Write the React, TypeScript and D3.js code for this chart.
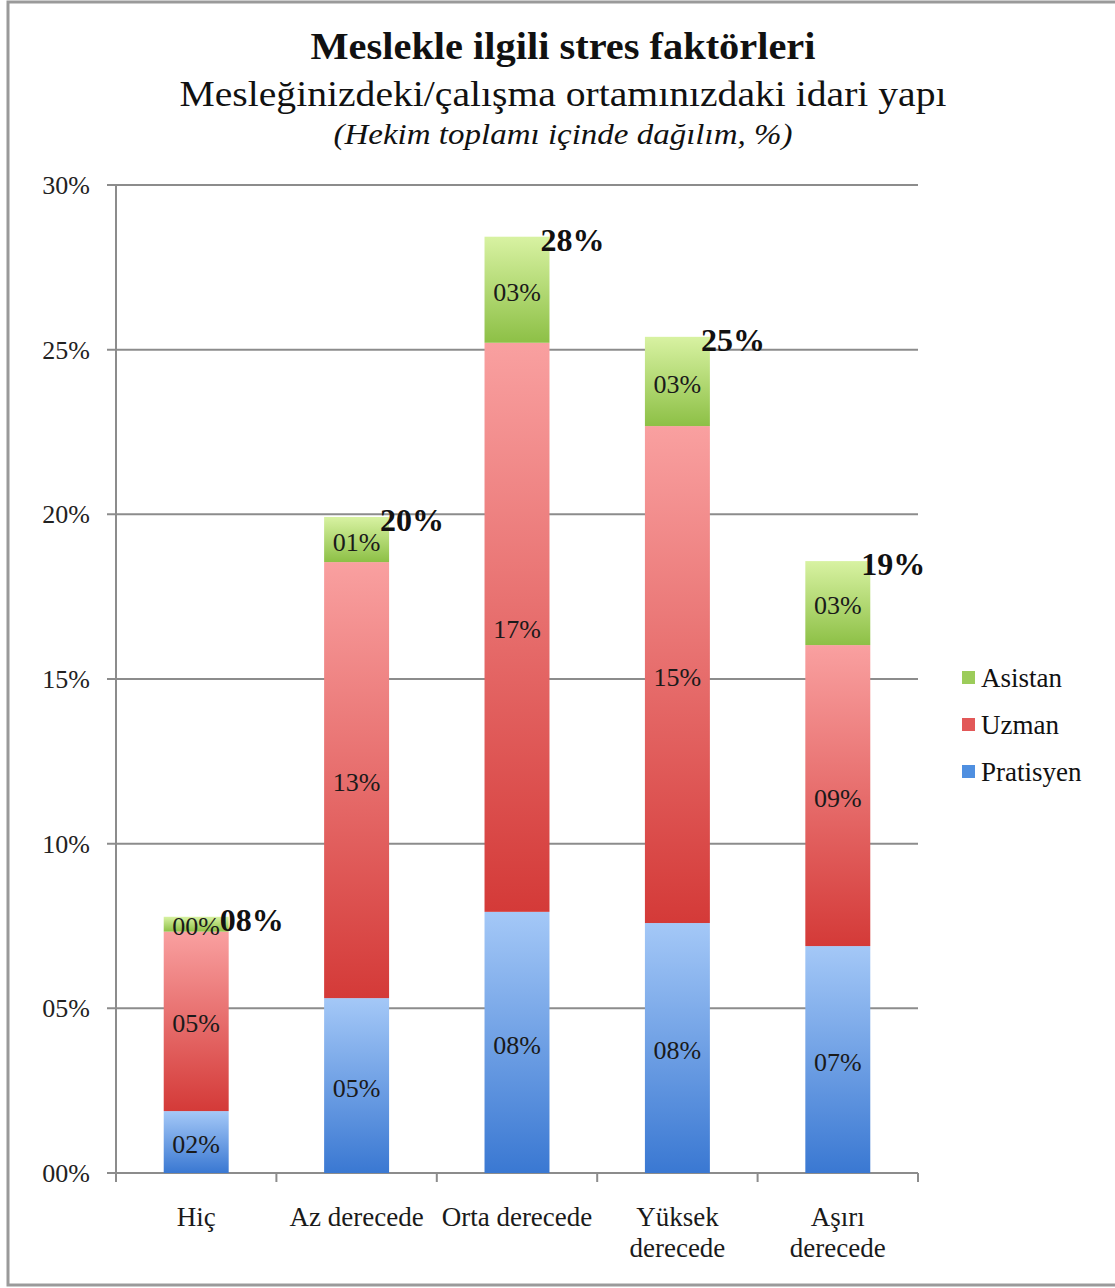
import React from "react";
import * as d3 from "d3";

const categories = ["Hiç", "Az derecede", "Orta derecede", "Yüksek derecede", "Aşırı derecede"];
const categoryLines = [["Hiç"], ["Az derecede"], ["Orta derecede"], ["Yüksek", "derecede"], ["Aşırı", "derecede"]];
const seriesNames = ["Pratisyen", "Uzman", "Asistan"];
const pratisyen = [1.88, 5.31, 7.93, 7.59, 6.89];
const uzman = [5.45, 13.24, 17.28, 15.09, 9.14];
const asistan = [0.45, 1.37, 3.22, 2.71, 2.55];
const yTicks = [0, 5, 10, 15, 20, 25, 30];

const W = 1115, H = 1288;
const left = 116, right = 918, top = 185, bottom = 1173;
const FONT = "'Liberation Serif', 'DejaVu Serif', serif";

const gradients = [
  { id: "gP", top: "#a4c8f7", bottom: "#3a78d2" },
  { id: "gU", top: "#f9a0a0", bottom: "#d43a38" },
  { id: "gA", top: "#d8f2a2", bottom: "#8dc046" },
];
const legendColors = ["#4f8fe0", "#e25858", "#9ccc5a"];

const pad2 = (v: number) => String(Math.round(v)).padStart(2, "0") + "%";

export default function App() {
  const x = d3.scaleBand<string>().domain(categories).range([left, right]).padding(0);
  const y = d3.scaleLinear().domain([0, 30]).range([bottom, top]);
  const barW = x.bandwidth() * 0.405;

  const rows = categories.map((c, i) => ({ cat: c, Pratisyen: pratisyen[i], Uzman: uzman[i], Asistan: asistan[i] }));
  const stack = d3.stack<any>().keys(seriesNames)(rows);

  const boundaries = categories.map((c) => x(c)!).concat([right]);

  return (
    <svg width={W} height={H} style={{ position: "absolute", left: 0, top: 0, background: "#fff" }} fontFamily={FONT}>
      <defs>
        {gradients.map((g) => (
          <linearGradient key={g.id} id={g.id} x1="0" y1="0" x2="0" y2="1">
            <stop offset="0%" stopColor={g.top} />
            <stop offset="100%" stopColor={g.bottom} />
          </linearGradient>
        ))}
      </defs>
      <rect x={0} y={0} width={W} height={H} fill="#fff" />
      <rect x={8} y={2} width={1125} height={1283} fill="none" stroke="#9a9a9a" strokeWidth={3} />

      {/* titles */}
      <text x={563} y={59} textAnchor="middle" fontWeight="bold" fontSize={37} textLength={505} lengthAdjust="spacingAndGlyphs" fill="#111">
        Meslekle ilgili stres faktörleri
      </text>
      <text x={563} y={106} textAnchor="middle" fontSize={35} textLength={767} lengthAdjust="spacingAndGlyphs" fill="#111">
        Mesleğinizdeki/çalışma ortamınızdaki idari yapı
      </text>
      <text x={563} y={144} textAnchor="middle" fontStyle="italic" fontSize={30} textLength={459} lengthAdjust="spacingAndGlyphs" fill="#111">
        (Hekim toplamı içinde dağılım, %)
      </text>

      {/* gridlines */}
      {yTicks.map((t) => (
        <g key={t}>
          <line x1={left - 9} x2={right} y1={y(t)} y2={y(t)} stroke="#8c8c8c" strokeWidth={2} />
          <text x={90} y={y(t)} dy="0.35em" textAnchor="end" fontSize={26} fill="#222">
            {pad2(t)}
          </text>
        </g>
      ))}
      <line x1={left} x2={left} y1={top} y2={bottom} stroke="#8c8c8c" strokeWidth={2} />
      {boundaries.map((b, i) => (
        <line key={i} x1={b} x2={b} y1={bottom} y2={bottom + 9} stroke="#8c8c8c" strokeWidth={2} />
      ))}

      {/* bars */}
      {stack.map((s, si) => (
        <g key={s.key}>
          {s.map((d, i) => {
            const cx = x(categories[i])! + x.bandwidth() / 2;
            const y0 = y(d[0]), y1 = y(d[1]);
            return (
              <g key={i}>
                <rect x={cx - barW / 2} y={y1} width={barW} height={y0 - y1} fill={`url(#${gradients[si].id})`} />
                <text x={cx} y={(y0 + y1) / 2 + 2} dy="0.35em" textAnchor="middle" fontSize={26} fill="#1a1a1a">
                  {pad2(d[1] - d[0])}
                </text>
              </g>
            );
          })}
        </g>
      ))}

      {/* totals */}
      {categories.map((c, i) => {
        const total = pratisyen[i] + uzman[i] + asistan[i];
        const cx = x(c)! + x.bandwidth() / 2;
        return (
          <text key={c} x={cx + barW / 2 - 9} y={y(total) + 3} dy="0.35em" fontWeight="bold" fontSize={32} fill="#111">
            {pad2(total)}
          </text>
        );
      })}

      {/* x labels */}
      {categoryLines.map((lines, i) => {
        const cx = x(categories[i])! + x.bandwidth() / 2;
        return (
          <text key={i} x={cx} y={1226} textAnchor="middle" fontSize={27} fill="#1a1a1a">
            {lines.map((l, j) => (
              <tspan key={j} x={cx} dy={j === 0 ? 0 : 31}>{l}</tspan>
            ))}
          </text>
        );
      })}

      {/* legend */}
      {["Asistan", "Uzman", "Pratisyen"].map((name, i) => {
        const si = seriesNames.indexOf(name);
        const ly = 678 + i * 47;
        return (
          <g key={name}>
            <rect x={962} y={ly - 7} width={13} height={13} fill={legendColors[si]} />
            <text x={981} y={ly} dy="0.35em" fontSize={27} fill="#111">{name}</text>
          </g>
        );
      })}
    </svg>
  );
}
